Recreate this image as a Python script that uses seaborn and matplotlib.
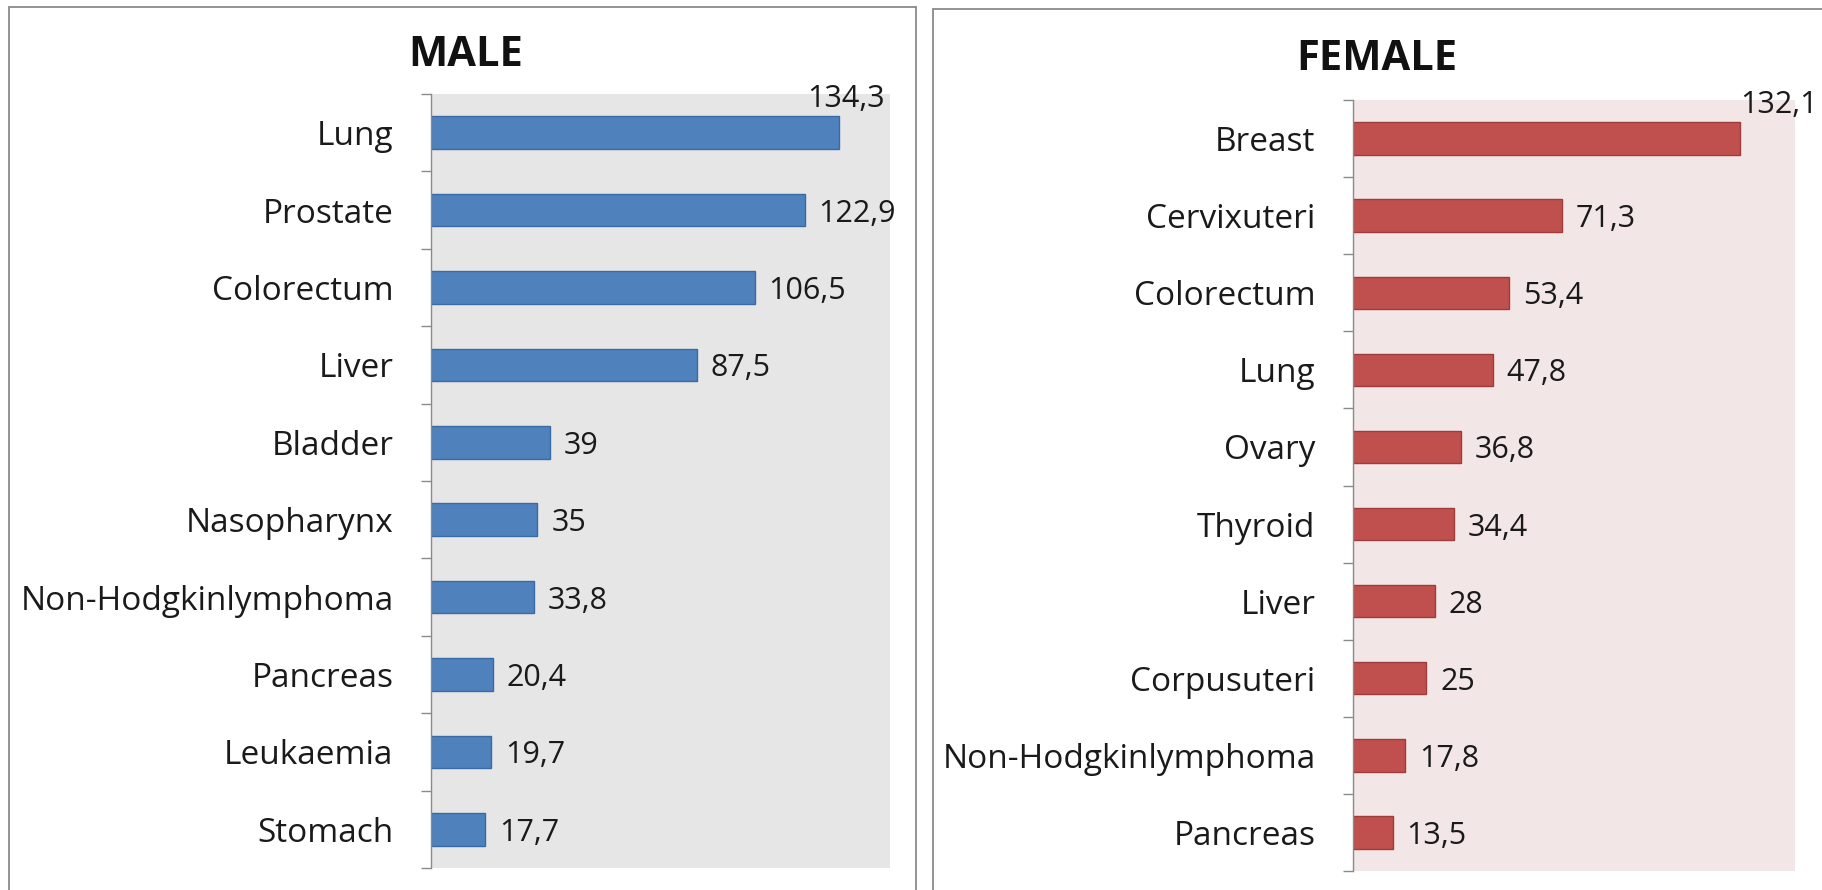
import matplotlib
matplotlib.use('Agg')
import matplotlib.pyplot as plt
import seaborn as sns
import pandas as pd
from matplotlib.patches import Rectangle

male_sites = ["Lung", "Prostate", "Colorectum", "Liver", "Bladder", "Nasopharynx",
              "Non-Hodgkinlymphoma", "Pancreas", "Leukaemia", "Stomach"]
male_values = [134.3, 122.9, 106.5, 87.5, 39, 35, 33.8, 20.4, 19.7, 17.7]

female_sites = ["Breast", "Cervixuteri", "Colorectum", "Lung", "Ovary", "Thyroid",
                "Liver", "Corpusuteri", "Non-Hodgkinlymphoma", "Pancreas"]
female_values = [132.1, 71.3, 53.4, 47.8, 36.8, 34.4, 28, 25, 17.8, 13.5]

sns.set_theme(style='white')
plt.rcParams['font.family'] = ['Open Sans', 'DejaVu Sans']

W, H = 1822, 890
fig = plt.figure(figsize=(W / 100, H / 100), dpi=100)
fig.patch.set_facecolor('white')


def axrect(l, t, r, b):
    return [l / W, 1 - b / H, (r - l) / W, (b - t) / H]


# panel frames
fig.patches.append(Rectangle((9 / W, -0.02), (916 - 9) / W, 1.02 - 7 / H,
                             transform=fig.transFigure, fill=False,
                             edgecolor='#8a8a8a', lw=1.3, zorder=0))
fig.patches.append(Rectangle((933 / W, -0.02), 0.5, 1.02 - 9 / H,
                             transform=fig.transFigure, fill=False,
                             edgecolor='#8a8a8a', lw=1.3, zorder=0))

ax1 = fig.add_axes(axrect(431, 94, 890, 868))
ax2 = fig.add_axes(axrect(1353, 100, 1795, 871))

LABEL_SIZE = 24
VALUE_SIZE = 22


def draw(ax, sites, values, color, edge, bg, top_dx):
    df = pd.DataFrame({'site': sites, 'value': values})
    sns.barplot(data=df, x='value', y='site', orient='h', color=color,
                width=0.42, edgecolor=edge, linewidth=1, saturation=1, ax=ax)
    ax.set_facecolor(bg)
    ax.set_xlim(0, 151)
    n = len(sites)
    ax.set_ylim(n - 0.5, -0.5)
    ax.set_xticks([])
    ax.set_yticks(range(n))
    ax.set_yticklabels(sites)
    ax.tick_params(axis='y', which='major', length=0, pad=27,
                   labelsize=LABEL_SIZE, labelcolor='#1a1a1a')
    ax.set_yticks([i - 0.5 for i in range(n + 1)], minor=True)
    ax.tick_params(axis='y', which='minor', left=True, length=7, width=1,
                   color='#8a8a8a', direction='out')
    for s in ['top', 'right', 'bottom']:
        ax.spines[s].set_visible(False)
    ax.spines['left'].set_color('#8a8a8a')
    ax.spines['left'].set_linewidth(1)
    ax.set_xlabel('')
    ax.set_ylabel('')
    vmax = max(values)
    for i, v in enumerate(values):
        txt = f"{v:g}".replace('.', ',')
        if v == vmax:
            ax.annotate(txt, xy=(v, i - 0.21), xytext=(top_dx, 2),
                        textcoords='offset points', ha='center', va='bottom',
                        fontsize=VALUE_SIZE, color='#1a1a1a', annotation_clip=False)
        else:
            ax.annotate(txt, xy=(v, i), xytext=(10, 0),
                        textcoords='offset points', ha='left', va='center_baseline',
                        fontsize=VALUE_SIZE, color='#1a1a1a', annotation_clip=False)


draw(ax1, male_sites, male_values, '#4f81bd', '#3a6aa3', '#e6e6e6', 5)
draw(ax2, female_sites, female_values, '#c0504d', '#9e3c39', '#f2e6e6', 28)

fig.text(466 / W, 1 - 56 / H, 'MALE', ha='center', va='center',
         fontsize=30, fontweight='bold', color='#111111')
fig.text(1377 / W, 1 - 60 / H, 'FEMALE', ha='center', va='center',
         fontsize=30, fontweight='bold', color='#111111')

fig.savefig('out.png', dpi=100)
